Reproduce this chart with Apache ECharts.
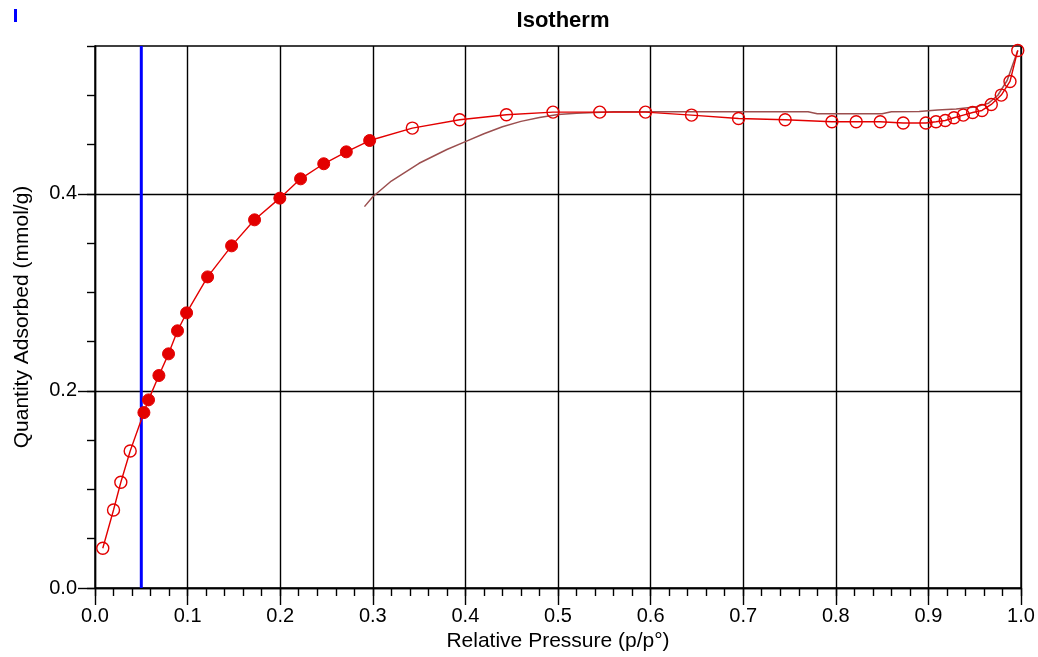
<!DOCTYPE html>
<html>
<head>
<meta charset="utf-8">
<script src="https://cdn.jsdelivr.net/npm/echarts@6/dist/echarts.min.js"></script>
<style>
html,body{margin:0;padding:0;background:#fff;}
#chart{width:1038px;height:657px;}
</style>
</head>
<body>
<div id="chart"></div>
<script>
// Adsorption branch (relative pressure, quantity adsorbed mmol/g)
const adsP = [0.0084,0.020,0.0279,0.038,0.0528,0.0578,0.069,0.0794,0.0891,0.0989,0.1216,0.1475,0.1723,0.1996,0.222,0.247,0.2714,0.2966,0.3427,0.3938,0.4443,0.4946,0.5451,0.5945,0.6442,0.695,0.7453,0.7958,0.822,0.848,0.8728,0.8973,0.9082,0.9182,0.9276,0.9377,0.9478,0.9579,0.9679,0.9787,0.9881,0.9965];
const adsQ = [0.0403,0.0792,0.1073,0.139,0.178,0.1909,0.2156,0.2376,0.261,0.2792,0.3157,0.3472,0.3736,0.3956,0.4152,0.4305,0.4426,0.4541,0.4667,0.4751,0.4802,0.4829,0.4829,0.4829,0.4799,0.4765,0.4751,0.4731,0.4731,0.4731,0.4718,0.4718,0.4731,0.4744,0.4772,0.4799,0.4825,0.4846,0.4907,0.5002,0.514,0.5455];
// Points inside the BET range are drawn filled
const betRange = [0.05, 0.30];
// Desorption branch
const desP = [0.9965,0.985,0.975,0.965,0.95,0.93,0.91,0.89,0.86,0.85,0.78,0.77,0.70,0.62,0.56,0.52,0.50,0.48,0.46,0.44,0.42,0.40,0.38,0.35,0.32,0.30,0.291];
const desQ = [0.5455,0.515,0.500,0.492,0.488,0.486,0.485,0.4835,0.4832,0.4812,0.4812,0.4832,0.4832,0.4832,0.4832,0.4818,0.4805,0.4775,0.4735,0.468,0.461,0.453,0.445,0.431,0.413,0.397,0.387];
// Vertical marker line
const markerP = 0.05;
const xTicks = {min:0, max:1.0, major:0.1, minor:0.02};
const yTicks = {min:0, max:0.55, major:0.2, minor:0.05, labels:[0,0.2,0.4]};

const FONT = 'Liberation Sans, Arial, sans-serif';
const RED = '#e30000';
const BROWN = '#9b4f4f';
const LW = 1.4;

const adsData = adsP.map((p,i)=>{
  const filled = p >= betRange[0] && p <= betRange[1];
  return {value:[p, adsQ[i]], itemStyle: filled ? {color:RED, borderColor:RED, borderWidth:1} : {color:'rgba(0,0,0,0)', borderColor:RED, borderWidth:1.4}};
});
const desData = desP.map((p,i)=>[p, desQ[i]]);

const chart = echarts.init(document.getElementById('chart'), null, {renderer:'canvas'});
chart.setOption({
  backgroundColor:'#fff',
  animation:false,
  title:{text:'Isotherm', left:558, top:5, textAlign:'center',
    textStyle:{fontFamily:FONT, fontSize:22, fontWeight:'bold', color:'#000'}},
  graphic:[{type:'rect', left:14, top:9, shape:{width:3, height:13}, style:{fill:'#0000ff'}}],
  grid:{left:95, right:17, top:46, bottom:69, show:true, borderColor:'#000', borderWidth:LW, containLabel:false},
  xAxis:[
    {type:'value', min:xTicks.min, max:xTicks.max, interval:xTicks.major,
     name:'Relative Pressure (p/p°)', nameLocation:'middle', nameGap:41,
     nameTextStyle:{fontFamily:FONT, fontSize:21, color:'#000'},
     axisLine:{show:true, lineStyle:{color:'#000', width:LW}},
     axisTick:{show:true, length:17, lineStyle:{color:'#000', width:LW}},
     axisLabel:{margin:18, fontFamily:FONT, fontSize:20, color:'#000', formatter:v=>v.toFixed(1)},
     splitLine:{show:true, lineStyle:{color:'#000', width:LW}}},
    {type:'value', min:xTicks.min, max:xTicks.max, interval:xTicks.minor, position:'bottom',
     axisLine:{show:false}, axisTick:{show:true, length:8, lineStyle:{color:'#000', width:LW}},
     axisLabel:{show:false}, splitLine:{show:false}}
  ],
  yAxis:[
    {type:'value', min:yTicks.min, max:yTicks.max, interval:yTicks.major,
     name:'Quantity Adsorbed (mmol/g)', nameLocation:'middle', nameGap:62,
     nameTextStyle:{fontFamily:FONT, fontSize:21, color:'#000'},
     axisLine:{show:true, lineStyle:{color:'#000', width:LW}},
     axisTick:{show:true, length:17, customValues:yTicks.labels, lineStyle:{color:'#000', width:LW}},
     axisLabel:{margin:18, fontFamily:FONT, fontSize:20, color:'#000', customValues:yTicks.labels, formatter:v=>v.toFixed(1)},
     splitLine:{show:true, lineStyle:{color:'#000', width:LW}}},
    {type:'value', min:yTicks.min, max:yTicks.max, interval:yTicks.minor, position:'left',
     axisLine:{show:false}, axisTick:{show:true, length:8, lineStyle:{color:'#000', width:LW}},
     axisLabel:{show:false}, splitLine:{show:false}}
  ],
  series:[
    {name:'marker', type:'line', xAxisIndex:0, yAxisIndex:0, z:1,
     data:[[markerP, yTicks.min],[markerP, yTicks.max]], symbol:'none',
     lineStyle:{color:'#0000ff', width:3}, silent:true},
    {name:'Desorption', type:'line', xAxisIndex:0, yAxisIndex:0, z:2,
     data:desData, symbol:'none', lineStyle:{color:BROWN, width:1.5}},
    {name:'Adsorption', type:'line', xAxisIndex:0, yAxisIndex:0, z:3,
     data:adsData, symbol:'circle', symbolSize:12, showAllSymbol:true,
     lineStyle:{color:RED, width:1.4}, itemStyle:{color:RED}}
  ]
});
</script>
</body>
</html>
